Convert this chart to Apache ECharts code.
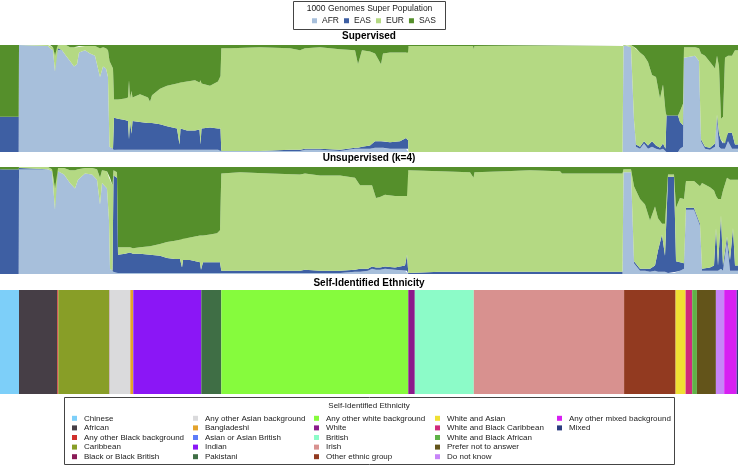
<!DOCTYPE html>
<html>
<head>
<meta charset="utf-8">
<title>Admixture</title>
<script src="https://cdn.jsdelivr.net/npm/echarts@6/dist/echarts.min.js"></script>
<style>
html, body { margin: 0; padding: 0; background: #fff; }
#main { width: 738px; height: 467px; }
</style>
</head>
<body>
<div id="main"></div>
<script>
// 1000 Genomes super populations, stacked bottom to top
var popNames = ['AFR', 'EAS', 'EUR', 'SAS'];
var popColors = ['#a7bfdb', '#3e5fa3', '#b4d983', '#558f2b'];

// supervised ancestry (% per component) along the sample order
var supX   = [0, 18.7, 19, 48, 50, 53, 55, 56, 57, 58, 62, 66, 70, 74, 77, 79, 85, 90, 95, 98, 100, 103, 106, 108,
    109.5, 113, 114, 118, 125, 128, 129, 130, 131.5, 132.5, 140, 148, 150, 152, 160, 167, 177, 179.5, 180.5, 187, 195, 199.5, 200.5, 201.5, 210, 218, 220.5,
    221.3, 230, 260, 290, 300, 305, 320, 340, 355, 358, 362, 370, 375, 381, 383, 390, 400, 406, 408, 408.5, 473, 473.8, 474.5, 622.5, 623.5, 631, 634, 636, 640, 644, 648, 652, 656, 660, 663, 665.5, 666.5, 678, 680, 683, 684, 695, 699, 701, 705, 710, 715, 717, 719, 721, 723, 725, 728, 732, 735, 738];
var supAFR = [0, 0, 100, 99, 97, 95, 75, 96, 92, 97, 95, 90, 85, 80, 82, 93, 95, 92, 90, 78, 70, 80, 78, 70,
    5, 3, 2, 2, 2, 2, 2, 2, 2, 2, 2, 2, 2, 2, 2, 2, 2, 2, 2, 2, 2, 2, 2, 2, 2, 2, 2,
    1, 1, 1, 1, 1, 2, 2, 1, 3, 3, 3, 3, 4, 4, 4, 3, 3, 3, 3, 0, 0, 0, 0, 0, 100, 98, 30, 5, 3, 8, 3, 5, 3, 2, 3, 1, 0, 0, 3, 5, 88, 90, 85, 10, 3, 2, 5, 30, 5, 3, 3, 3, 10, 3, 3, 3];
var supEAS = [33, 33, 0, 0, 0, 0, 0, 0, 4, 0, 0, 0, 0, 0, 0, 0, 0, 0, 0, 0, 0, 0, 0, 0,
    0, 0, 30, 29, 28, 27, 10, 27, 15, 27, 26, 25, 25, 25, 24, 22, 20, 5, 20, 18, 18, 19, 5, 20, 21, 20, 20,
    0, 0, 0, 1, 1, 1, 1, 1, 1, 1, 2, 3, 6, 6, 6, 6, 7, 10, 8, 0, 0, 0, 0, 0, 0, 0, 0, 2, 2, 2, 3, 5, 3, 2, 5, 2, 34, 34, 25, 20, 0, 0, 0, 2, 2, 2, 3, 5, 12, 8, 5, 5, 8, 15, 4, 4];
var supEUR = [0, 0, 0, 1, 3, 3, 15, 2, 2, 3, 5, 10, 13, 18, 16, 6, 4, 7, 9, 20, 27, 18, 19, 25,
    80, 75, 17, 18, 20, 22, 55, 21, 40, 22, 26, 24, 20, 26, 33, 38, 42, 58, 43, 46, 47, 44, 60, 42, 39, 44, 49,
    96, 96, 97, 95, 93, 94, 95, 94, 91, 78, 90, 88, 82, 72, 82, 84, 83, 80, 82, 99, 99, 96, 99, 99, 0, 2, 68, 90, 88, 80, 78, 62, 64, 46, 55, 35, 0, 0, 10, 20, 10, 8, 12, 80, 85, 80, 70, 55, 63, 20, 25, 80, 72, 72, 88, 88];
var supSAS = [67, 67, 0, 0, 0, 2, 10, 2, 2, 0, 0, 0, 2, 2, 2, 1, 1, 1, 1, 2, 3, 2, 3, 5,
    15, 22, 51, 51, 50, 49, 33, 50, 43, 49, 46, 49, 53, 47, 41, 38, 36, 35, 35, 34, 33, 35, 33, 36, 38, 34, 29,
    3, 3, 2, 3, 5, 3, 2, 4, 5, 18, 5, 6, 8, 18, 8, 7, 7, 7, 7, 1, 1, 4, 1, 1, 0, 0, 2, 3, 7, 10, 16, 28, 30, 50, 37, 62, 66, 66, 62, 55, 2, 2, 3, 8, 10, 16, 22, 10, 20, 69, 67, 12, 10, 10, 5, 5];

// unsupervised (k=4) ancestry
var unsX   = [0, 18.7, 19, 48, 52, 55, 56, 57, 58, 64, 70, 75, 78, 85, 92, 97, 100, 102, 107, 109, 110, 112.5, 113.5, 117,
    118, 125, 130, 133, 140, 150, 160, 167, 175, 180, 182, 183, 190, 200, 201, 203, 210, 217, 220,
    221.3, 240, 270, 300, 305, 320, 340, 355, 360, 368, 372, 376, 380, 385, 395, 405, 407, 408.3, 440, 470, 473.5, 474.5, 505, 530, 560, 562, 600, 622.5, 623.5, 631, 634, 640, 645, 650, 655, 658, 662, 665, 668, 674, 676, 680, 684, 686, 694, 700, 702, 710, 714, 716, 718, 721, 723, 727, 730, 733, 735, 738];
var unsAFR = [0, 0, 99, 98, 96, 60, 97, 90, 96, 93, 85, 80, 88, 94, 93, 88, 65, 85, 80, 50, 5, 3, 2, 2,
    1, 1, 1, 1, 1, 1, 1, 1, 1, 1, 1, 1, 1, 1, 1, 1, 1, 1, 1,
    1, 1, 1, 1, 1, 1, 1, 2, 2, 3, 5, 4, 4, 5, 4, 3, 3, 0, 0, 0, 0, 0, 0, 0, 0, 0, 0, 0, 95, 95, 10, 3, 3, 2, 3, 2, 2, 2, 1, 1, 2, 3, 5, 60, 60, 45, 3, 3, 3, 3, 3, 5, 3, 30, 3, 3, 3, 3];
var unsEAS = [98, 98, 0, 0, 0, 0, 0, 6, 0, 0, 0, 0, 0, 0, 0, 0, 0, 0, 0, 0, 0, 0, 90, 88,
    17, 18, 19, 18, 18, 17, 16, 14, 13, 13, 5, 12, 12, 10, 3, 10, 10, 10, 10,
    2, 2, 2, 2, 3, 2, 2, 2, 3, 2, 2, 2, 2, 2, 2, 5, 15, 1, 2, 2, 2, 2, 2, 2, 2, 2, 2, 2, 0, 0, 2, 2, 2, 3, 5, 20, 35, 15, 90, 90, 10, 8, 5, 2, 2, 2, 2, 3, 5, 40, 5, 50, 5, 5, 10, 40, 5, 5];
var unsEUR = [0, 0, 1, 2, 2, 20, 2, 2, 3, 6, 12, 17, 10, 5, 6, 10, 25, 12, 16, 40, 85, 80, 5, 5,
    7, 6, 5, 5, 6, 8, 11, 15, 17, 18, 28, 20, 21, 25, 33, 25, 26, 27, 30,
    91, 92, 91, 90, 90, 89, 89, 86, 78, 78, 76, 65, 66, 67, 67, 66, 55, 96, 94, 93, 88, 93, 94, 95, 94, 92, 92, 92, 3, 3, 70, 65, 60, 45, 55, 30, 10, 30, 2, 2, 50, 60, 60, 25, 25, 35, 80, 75, 70, 30, 62, 15, 70, 55, 75, 45, 80, 80];
var unsSAS = [2, 2, 0, 0, 2, 20, 1, 2, 1, 1, 3, 3, 2, 1, 1, 2, 10, 3, 4, 10, 10, 17, 3, 5,
    75, 75, 75, 76, 75, 74, 72, 70, 69, 68, 66, 67, 66, 64, 63, 64, 63, 62, 59,
    6, 5, 6, 7, 6, 8, 8, 10, 17, 17, 17, 29, 28, 26, 27, 26, 27, 3, 4, 5, 10, 5, 4, 3, 4, 6, 6, 6, 2, 2, 18, 30, 35, 50, 37, 48, 53, 53, 7, 7, 38, 29, 30, 13, 13, 18, 15, 19, 22, 27, 30, 30, 22, 10, 12, 12, 12, 12];

// self-identified ethnicity, in sample order (share of the 738 sample positions)
var ethNames = ['Chinese', 'African', 'Any other Black background', 'Caribbean', 'Black or Black British',
    'Any other Asian background', 'Bangladeshi', 'Asian or Asian British', 'Indian', 'Pakistani',
    'Any other white background', 'White', 'British', 'Irish', 'Other ethnic group',
    'White and Asian', 'White and Black Caribbean', 'White and Black African', 'Prefer not to answer', 'Do not know',
    'Any other mixed background', 'Mixed'];
var ethCounts = [19, 38.3, 1, 51, 0.3, 20.7, 2.7, 0.3, 68, 20, 187, 6.5, 59, 150.3, 51.5, 10, 6.6, 4.7, 19, 8.3, 12.5, 1.3];
var ethColors = ['#7dcff9', '#463e46', '#d0302c', '#889e27', '#8a1b56',
    '#dadadc', '#e3a32c', '#5d7cf9', '#8b16f6', '#3f6e45',
    '#86fb3d', '#8b1b8b', '#8cfbc8', '#d8918f', '#923a20',
    '#f0e033', '#cf2a7c', '#5fb247', '#63541a', '#c784f8',
    '#d71ff2', '#2c3b80'];

var FONT = '"Liberation Sans", Arial, sans-serif';

var myChart = echarts.init(document.getElementById('main'));

// sample position axis is a 'time' axis so that stacking happens on y, by index
function ancestrySeries(xs, cols, stackId, idx) {
    return cols.map(function (vals, k) {
        return {
            name: popNames[k],
            type: 'line',
            stack: stackId,
            xAxisIndex: idx,
            yAxisIndex: idx,
            data: xs.map(function (x, i) { return [x, vals[i]]; }),
            symbol: 'none',
            silent: true,
            lineStyle: { width: 0, color: popColors[k] },
            itemStyle: { color: popColors[k] },
            areaStyle: { color: popColors[k], opacity: 1 }
        };
    });
}

var ethSeries = ethNames.map(function (name, k) {
    return {
        name: name,
        type: 'bar',
        stack: 'eth',
        xAxisIndex: 2,
        yAxisIndex: 2,
        barWidth: '100%',
        silent: true,
        itemStyle: { color: ethColors[k] },
        data: [ethCounts[k]]
    };
});

// bottom legend: 5 columns of 5 rows
var colLeft = [72, 193, 314, 435, 557];
var ethLegends = colLeft.map(function (left, c) {
    return {
        orient: 'vertical',
        left: left,
        top: 413.5,
        padding: 0,
        itemGap: 0,
        itemWidth: 5,
        itemHeight: 5,
        icon: 'rect',
        selectedMode: false,
        textStyle: { fontSize: 8, color: '#222', fontFamily: FONT, lineHeight: 9.6, padding: [0, 0, 0, 2] },
        data: ethNames.slice(c * 5, c * 5 + 5)
    };
});

var option = {
    animation: false,
    grid: [
        { left: 0, right: 0, top: 45, height: 107 },
        { left: 0, right: 0, top: 167, height: 107 },
        { left: 0, right: 0, top: 290, height: 104 }
    ],
    xAxis: [
        { type: 'time', gridIndex: 0, min: 0, max: 738, show: false },
        { type: 'time', gridIndex: 1, min: 0, max: 738, show: false },
        { type: 'value', gridIndex: 2, min: 0, max: 738, show: false }
    ],
    yAxis: [
        { type: 'value', gridIndex: 0, min: 0, max: 100, show: false },
        { type: 'value', gridIndex: 1, min: 0, max: 100, show: false },
        { type: 'category', gridIndex: 2, data: ['ethnicity'], show: false }
    ],
    legend: [{
        orient: 'horizontal',
        left: 312,
        top: 16,
        padding: 0,
        itemGap: 5,
        itemWidth: 5,
        itemHeight: 5,
        icon: 'rect',
        selectedMode: false,
        textStyle: { fontSize: 8.5, color: '#222', fontFamily: FONT, lineHeight: 9.5 },
        data: popNames.map(function (n, k) { return { name: n, itemStyle: { color: popColors[k], opacity: 1 } }; })
    }].concat(ethLegends),
    graphic: [
        { type: 'rect', shape: { x: 293.5, y: 1.5, width: 152, height: 28 }, style: { fill: 'none', stroke: '#444', lineWidth: 1 } },
        { type: 'text', style: { text: '1000 Genomes Super Population', x: 369.5, y: 8.5, align: 'center', verticalAlign: 'middle', font: '8.5px ' + FONT, fill: '#222' } },
        { type: 'text', style: { text: 'Supervised', x: 369, y: 36.5, align: 'center', verticalAlign: 'middle', font: 'bold 10px ' + FONT, fill: '#000' } },
        { type: 'text', style: { text: 'Unsupervised (k=4)', x: 369, y: 158.5, align: 'center', verticalAlign: 'middle', font: 'bold 10px ' + FONT, fill: '#000' } },
        { type: 'text', style: { text: 'Self-Identified Ethnicity', x: 369, y: 283, align: 'center', verticalAlign: 'middle', font: 'bold 10px ' + FONT, fill: '#000' } },
        { type: 'rect', shape: { x: 64.5, y: 397.5, width: 610, height: 67 }, style: { fill: 'none', stroke: '#444', lineWidth: 1 } },
        { type: 'text', style: { text: 'Self-Identified Ethnicity', x: 369, y: 406, align: 'center', verticalAlign: 'middle', font: '8px ' + FONT, fill: '#222' } }
    ],
    series: ancestrySeries(supX, [supAFR, supEAS, supEUR, supSAS], 'sup', 0)
        .concat(ancestrySeries(unsX, [unsAFR, unsEAS, unsEUR, unsSAS], 'uns', 1))
        .concat(ethSeries)
};
option && myChart.setOption(option);
</script>
</body>
</html>
